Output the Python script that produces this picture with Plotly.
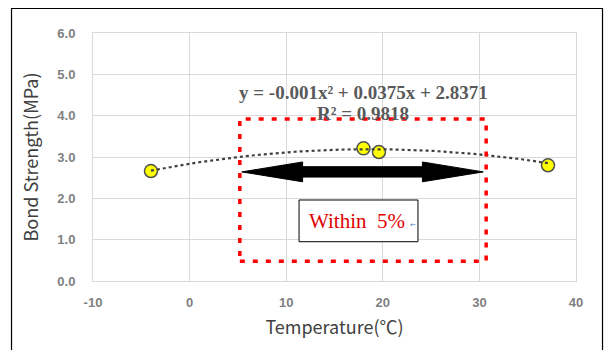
import plotly.graph_objects as go

# Data
temperature = [-4.0, 18.0, 19.6, 37.1]
bond_strength = [2.66, 3.21, 3.12, 2.80]

# Trendline coefficients as displayed on the chart (y = a x^2 + b x + c)
coef_a, coef_b, coef_c = -0.001, 0.0375, 2.8371
r_squared = 0.9818
trend_x = [temperature[0] + i * (temperature[-1] - temperature[0]) / 80 for i in range(81)]
trend_y = [coef_a * x * x + coef_b * x + coef_c for x in trend_x]

x_ticks = [-10, 0, 10, 20, 30, 40]
y_ticks = [0, 1, 2, 3, 4, 5, 6]

# Annotation geometry (data units)
band_x = [5.2, 30.7]
band_y = [0.48, 3.92]
arrow_x = [5.4, 30.4]
arrow_y = 2.64
arrow_head_len = 6.3
arrow_head_half = 0.24
arrow_shaft_half = 0.125
box_x = [11.33, 23.64]
box_y = [0.95, 1.96]

fig = go.Figure()

fig.add_trace(go.Scatter(
    x=temperature, y=bond_strength, mode="markers",
    marker=dict(size=13, color="#ffff00", line=dict(color="#505050", width=1.5)),
    showlegend=False, hoverinfo="x+y"))

fig.add_trace(go.Scatter(
    x=trend_x, y=trend_y, mode="lines",
    line=dict(color="#404040", width=2.2, dash="dot"),
    showlegend=False, hoverinfo="skip"))

# Double-headed arrow polygon
ax0, ax1 = arrow_x
p = [
    (ax0, arrow_y),
    (ax0 + arrow_head_len, arrow_y + arrow_head_half),
    (ax0 + arrow_head_len, arrow_y + arrow_shaft_half),
    (ax1 - arrow_head_len, arrow_y + arrow_shaft_half),
    (ax1 - arrow_head_len, arrow_y + arrow_head_half),
    (ax1, arrow_y),
    (ax1 - arrow_head_len, arrow_y - arrow_head_half),
    (ax1 - arrow_head_len, arrow_y - arrow_shaft_half),
    (ax0 + arrow_head_len, arrow_y - arrow_shaft_half),
    (ax0 + arrow_head_len, arrow_y - arrow_head_half),
]
path = "M " + " L ".join(f"{x},{y}" for x, y in p) + " Z"

shapes = [
    dict(type="rect", xref="x", yref="y", x0=band_x[0], x1=band_x[1], y0=band_y[0], y1=band_y[1],
         line=dict(color="#ff0000", width=3.5, dash="5px,8px"), layer="above"),
    dict(type="path", xref="x", yref="y", path=path, fillcolor="#000000",
         line=dict(color="#000000", width=1), layer="above"),
    dict(type="rect", xref="x", yref="y", x0=box_x[0], x1=box_x[1], y0=box_y[0], y1=box_y[1],
         fillcolor="#ffffff", line=dict(color="#000000", width=1), layer="above"),
    # outer chart frame (open at the bottom, as cropped)
    dict(type="path", xref="paper", yref="paper",
         path="M -0.1687,-0.3 L -0.1687,1.0988 L 1.0549,1.0988 L 1.0549,-0.3",
         line=dict(color="#000000", width=1.2)),
]

eq_text = f"y = {coef_a}x² + {coef_b}x + {coef_c}"
annotations = [
    dict(x=17.95, y=4.55, xref="x", yref="y", text=eq_text, showarrow=False,
         font=dict(family="Liberation Serif", size=19, color="#595959", weight="bold")),
    dict(x=17.95, y=4.06, xref="x", yref="y", text=f"R² = {r_squared}", showarrow=False,
         font=dict(family="Liberation Serif", size=19, color="#595959", weight="bold")),
    dict(x=17.3, y=1.45, xref="x", yref="y", text="Within  5%", showarrow=False,
         font=dict(family="Liberation Serif", size=21, color="#e00000")),
    dict(x=23.1, y=1.36, xref="x", yref="y", text="←", showarrow=False,
         font=dict(family="DejaVu Sans", size=7, color="#4472c4")),
]

fig.update_layout(
    width=605, height=350,
    margin=dict(l=93, r=29, t=33, b=69, autoexpand=False),
    paper_bgcolor="#ffffff", plot_bgcolor="#ffffff",
    shapes=shapes, annotations=annotations,
    showlegend=False,
)

fig.update_xaxes(
    range=[-10, 40], tickvals=x_ticks, ticktext=[str(t) for t in x_ticks],
    showgrid=True, gridcolor="#d9d9d9", gridwidth=1,
    showline=True, linecolor="#d9d9d9", linewidth=1, mirror=True,
    zeroline=False, ticks="", ticklabelstandoff=9,
    tickfont=dict(family="Liberation Sans", size=13, color="#7f7f7f", weight="bold"),
    title=dict(text="Temperature(℃)", standoff=12,
               font=dict(family="Noto Sans CJK KR", size=18, color="#404040")),
    automargin=False,
)
fig.update_yaxes(
    range=[0, 6], tickvals=y_ticks, ticktext=[f"{t:.1f}" for t in y_ticks],
    showgrid=True, gridcolor="#d9d9d9", gridwidth=1,
    showline=True, linecolor="#d9d9d9", linewidth=1, mirror=True,
    zeroline=False, ticks="", ticklabelstandoff=14,
    tickfont=dict(family="Liberation Sans", size=13, color="#7f7f7f", weight="bold"),
    title=dict(text="Bond Strength(MPa)", standoff=14,
               font=dict(family="Noto Sans CJK KR", size=18, color="#404040")),
    automargin=False,
)

fig.write_html("out.html")
